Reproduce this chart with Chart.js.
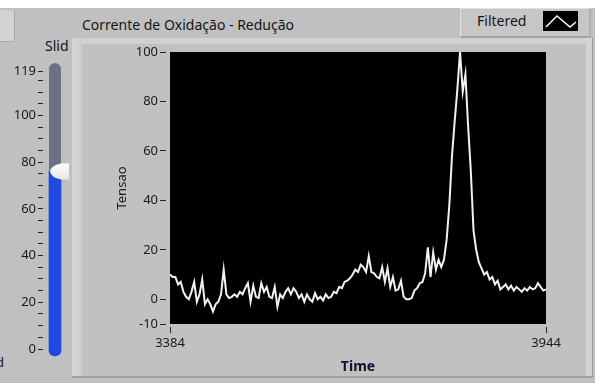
<!DOCTYPE html>
<html>
<head>
<meta charset="utf-8">
<script src="https://cdn.jsdelivr.net/npm/chart.js@4.4.1/dist/chart.umd.min.js"></script>
<style>
  html, body { margin: 0; padding: 0; }
  body {
    width: 595px; height: 383px; position: relative; overflow: hidden;
    background: #c0c0c0; font-family: "Noto Sans", sans-serif; color: #151515;
  }
  .abs { position: absolute; }
  #topStrip { left: 0; top: 0; width: 595px; height: 8px; background: #fff; }
  #cornerBox { left: 0; top: 10px; width: 14px; height: 31px; background: #d2d2d2;
    border-right: 1px solid #a9a9a9; border-bottom: 1px solid #a9a9a9; }
  #sliderName { left: 45px; top: 36px; width: 24px; overflow: hidden; font-size: 14px; white-space: nowrap; }
  #leftCut { left: -4px; top: 353px; font-size: 13px; }
  #graphTitle { left: 82px; top: 15px; font-size: 14px; white-space: nowrap; }
  #panel { left: 72px; top: 38px; width: 520px; height: 340px; background: #c1c1c1; }
  #panelTop { left: 72px; top: 38px; width: 520px; height: 6px; background: #d0d0d0; }
  #panelLeft { left: 72px; top: 38px; width: 10px; height: 340px;
    background: linear-gradient(to right, #d6d6d6, #cbcbcb); }
  #panelRight { left: 586px; top: 38px; width: 6px; height: 340px; background: #d3d3d3;
    border-right: 1px solid #9c9c9c; }
  #panelBottom { left: 72px; top: 376px; width: 521px; height: 2px; background: #a2a2a2; }
  #legendBox { left: 460px; top: 8px; width: 128px; height: 27px; background: #c6c6c6;
    border-top: 1px solid #e2e2e2; border-left: 1px solid #e2e2e2;
    border-bottom: 2px solid #a4a4a4; border-right: 2px solid #b0b0b0; }
  #legendText { left: 477px; top: 11px; font-size: 14px; }
  #legendIcon { left: 543px; top: 11px; }
  #graphCanvasBox { left: 82px; top: 40px; width: 500px; height: 338px; }
  #sliderCanvasBox { left: 0px; top: 40px; width: 72px; height: 330px; }
</style>
</head>
<body>
<div class="abs" id="topStrip"></div>
<div class="abs" id="cornerBox"></div>
<div class="abs" id="sliderName">Slider</div>
<div class="abs" id="leftCut">d</div>
<div class="abs" id="graphTitle">Corrente de Oxidação - Redução</div>
<div class="abs" id="panel"></div>
<div class="abs" id="panelTop"></div>
<div class="abs" id="panelLeft"></div>
<div class="abs" id="panelRight"></div>
<div class="abs" id="panelBottom"></div>
<div class="abs" id="legendBox"></div>
<div class="abs" id="legendText">Filtered</div>
<canvas class="abs" id="legendIcon" width="35" height="20"></canvas>
<div class="abs" id="sliderCanvasBox"><canvas id="sliderChart" width="72" height="330"></canvas></div>
<div class="abs" id="graphCanvasBox"><canvas id="graphChart" width="500" height="338"></canvas></div>

<script>
// waveform: one sample every 4 time units starting at 3384
const timeStart = 3384;
const timeStep = 4;
const tensao = [
  10, 9, 9, 6, 7, 3, 1, 0, 3, 7,
  -1, 2, 8, -2, 0, -2, -5, -2, -1, 2,
  12, 2, 0.5, 1, 2, 1, 3, 2, 4.5, 6.5,
  -1, 5.5, 1, 0.5, 6.5, 3, 5, 1, 0.5, 5,
  -3, 2, 0.5, 3, 4.5, 2, 4.5, 3, 0.5, 2,
  -1, 2, 0, -1, 2.5, 0, 1, -0.5, 2, 0.5,
  1, 3, 2.5, 5, 4.5, 7, 7.5, 8.5, 10, 12,
  11, 14, 13, 11, 17.5, 11, 10.5, 9, 8.5, 13,
  7, 12.5, 5, 9, 3.5, 4, 7.5, 1, 0, 0,
  0.5, 3.5, 4.5, 6.5, 7, 10.5, 21, 9, 19, 12,
  16, 13, 16, 24, 38, 58, 72, 85, 100, 84,
  91, 70, 52, 28, 20, 15, 12.5, 10, 11, 8,
  9, 6, 7.5, 4, 5, 6, 4, 5.5, 3.5, 5,
  4, 3, 4.5, 3.5, 5, 4, 4.5, 6.5, 5, 3.5, 4
];
const times = tensao.map((_, i) => timeStart + i * timeStep);

const xTicks = [3384, 3944];
const yTicks = [-10, 0, 20, 40, 60, 80, 100];

// slider control
const sliderValue = [76];
const sliderTicks = [0, 5, 10, 15, 20, 25, 30, 35, 40, 45, 50, 55, 60, 65, 70, 75,
  80, 85, 90, 95, 100, 105, 110, 115, 119];
const sliderLabels = [0, 20, 40, 60, 80, 100, 119];

const labelFont = { family: '"Noto Sans", sans-serif', size: 13 };
const inkColor = '#1a1a1a';

// legend swatch
(function () {
  const c = document.getElementById('legendIcon').getContext('2d');
  c.fillStyle = '#000';
  c.fillRect(0, 0, 35, 20);
  c.strokeStyle = '#fff';
  c.lineWidth = 1.5;
  c.beginPath();
  c.moveTo(3, 16);
  c.lineTo(14, 5);
  c.lineTo(27, 16);
  c.lineTo(33, 11);
  c.stroke();
})();

const plotBackground = {
  id: 'plotBackground',
  beforeDraw(chart) {
    const { ctx, chartArea: a } = chart;
    ctx.save();
    ctx.fillStyle = '#000';
    ctx.fillRect(a.left, a.top, a.right - a.left, a.bottom - a.top);
    ctx.restore();
  }
};

new Chart(document.getElementById('graphChart'), {
  type: 'line',
  data: {
    datasets: [{
      label: 'Filtered',
      data: tensao.map((v, i) => ({ x: times[i], y: v })),
      borderColor: '#f2f2f2',
      borderWidth: 2,
      pointRadius: 0,
      tension: 0
    }]
  },
  options: {
    responsive: false,
    animation: false,
    events: [],
    layout: { padding: { left: 0, top: 12, right: 36, bottom: 0 } },
    plugins: { legend: { display: false }, tooltip: { enabled: false } },
    scales: {
      x: {
        type: 'linear',
        min: xTicks[0],
        max: xTicks[xTicks.length - 1],
        afterBuildTicks: s => { s.ticks = xTicks.map(v => ({ value: v })); },
        afterFit: s => { s.height = 54; },
        border: { display: false },
        grid: { drawOnChartArea: false, tickLength: 9, tickBorderDash: [0, 3, 6, 20], color: '#222', lineWidth: 1 },
        ticks: { autoSkip: false, maxRotation: 0, padding: 2, font: labelFont, color: inkColor,
          callback: v => String(v) },
        title: { display: true, text: 'Time', color: '#101030',
          font: { family: '"Noto Sans", sans-serif', size: 14, weight: 'bold' },
          padding: { top: 0, bottom: 3 } }
      },
      y: {
        min: -10,
        max: 100,
        afterBuildTicks: s => { s.ticks = yTicks.map(v => ({ value: v })); },
        afterFit: s => { s.width = 88; },
        border: { display: false },
        grid: { drawOnChartArea: false, tickLength: 10, tickBorderDash: [6, 4], color: '#222', lineWidth: 1 },
        ticks: { autoSkip: false, padding: 2, font: labelFont, color: inkColor },
        title: { display: true, text: 'Tensao', color: inkColor,
          font: { family: '"Noto Sans", sans-serif', size: 13 },
          padding: { top: 32, bottom: 0 } }
      }
    }
  },
  plugins: [plotBackground]
});

// track behind the slider fill and the thumb on top of it
const sliderParts = {
  id: 'sliderParts',
  beforeDatasetsDraw(chart) {
    const { ctx, chartArea: a, scales: { y } } = chart;
    const top = y.getPixelForValue(y.max) - 8;
    const bottom = y.getPixelForValue(0) + 7;
    ctx.save();
    ctx.fillStyle = '#6f6f88';
    ctx.beginPath();
    ctx.roundRect(a.left, top, a.right - a.left, bottom - top, 6);
    ctx.fill();
    ctx.restore();
  },
  afterDatasetsDraw(chart) {
    const { ctx, chartArea: a, scales: { y } } = chart;
    const cy = y.getPixelForValue(sliderValue[0]);
    const right = a.right + 8;
    ctx.save();
    const g = ctx.createLinearGradient(0, cy - 8, 0, cy + 8);
    g.addColorStop(0, '#ffffff');
    g.addColorStop(1, '#e4e4e4');
    ctx.fillStyle = g;
    ctx.beginPath();
    ctx.moveTo(right, cy - 8);
    ctx.lineTo(a.left + 12, cy - 8);
    ctx.quadraticCurveTo(a.left + 2, cy - 6, a.left + 1, cy);
    ctx.quadraticCurveTo(a.left + 2, cy + 6, a.left + 12, cy + 8);
    ctx.lineTo(right, cy + 8);
    ctx.closePath();
    ctx.fill();
    ctx.restore();
  }
};

new Chart(document.getElementById('sliderChart'), {
  type: 'bar',
  data: {
    labels: ['Slider'],
    datasets: [{
      data: sliderValue,
      backgroundColor: '#1d4be2',
      base: -3,
      clip: false,
      borderSkipped: false,
      borderRadius: { topLeft: 0, topRight: 0, bottomLeft: 6, bottomRight: 6 },
      barPercentage: 1,
      categoryPercentage: 1
    }]
  },
  options: {
    responsive: false,
    animation: false,
    events: [],
    layout: { padding: { left: 0, top: 31, right: 11, bottom: 21 } },
    plugins: { legend: { display: false }, tooltip: { enabled: false } },
    scales: {
      x: { display: false },
      y: {
        min: 0,
        max: 119,
        afterBuildTicks: s => { s.ticks = sliderTicks.map(v => ({ value: v })); },
        afterFit: s => { s.width = 49; },
        border: { display: false },
        grid: { drawOnChartArea: false, tickLength: 11, tickBorderDash: [5, 6], color: '#222', lineWidth: 1 },
        ticks: {
          autoSkip: false, padding: 2, font: labelFont, color: inkColor,
          callback: v => sliderLabels.includes(v) ? String(v) : ''
        }
      }
    }
  },
  plugins: [sliderParts]
});
</script>
</body>
</html>
